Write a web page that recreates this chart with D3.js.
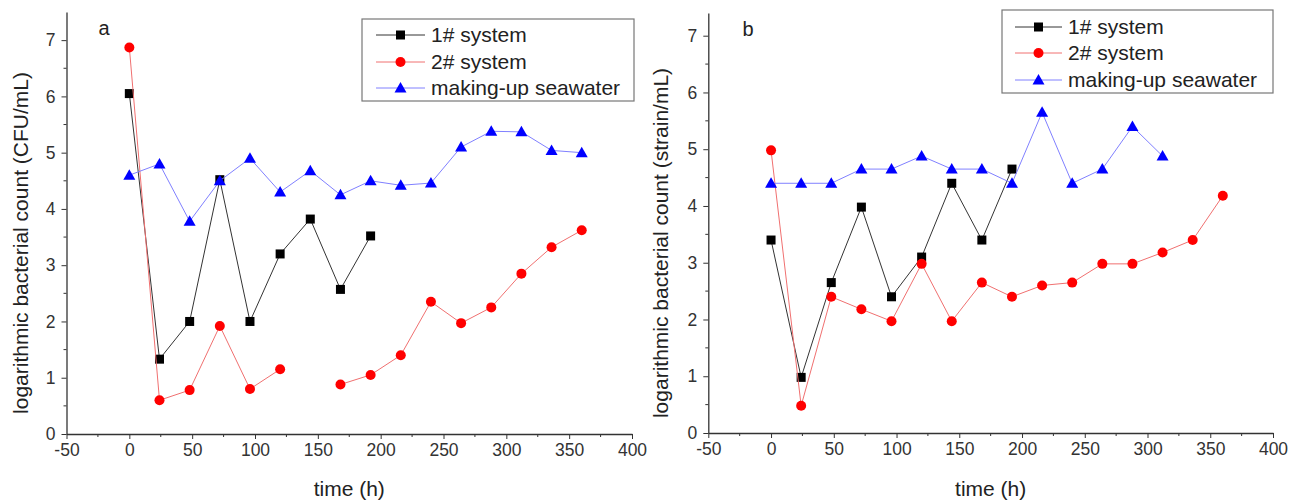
<!DOCTYPE html>
<meta charset="utf-8">
<style>
html, body { margin: 0; padding: 0; background: #fff; }
svg { display: block; font-family: "Liberation Sans", Arial, sans-serif; }
.axis path, .axis line { stroke: #333; }
</style>
<svg width="1303" height="501"></svg>
<script src="https://d3js.org/d3.v7.min.js"></script>
<script>
// sampling times (h)
const hours = [0, 24, 48, 72, 96, 120, 144, 168, 192, 216, 240, 264, 288, 312, 336, 360];

// panel a : CFU/mL
const a_sys1 = [6.05, 1.33, 2.0, 4.52, 2.0, 3.2, 3.82, 2.57, 3.52];
const a_sys2 = [6.87, 0.6, 0.78, 1.92, 0.8, 1.15, null, 0.88, 1.05, 1.4, 2.35, 1.97, 2.25, 2.85, 3.32, 3.62];
const a_sea = [4.6, 4.8, 3.78, 4.5, 4.9, 4.3, 4.68, 4.25, 4.5, 4.42, 4.46, 5.1, 5.38, 5.37, 5.04, 5.0];

// panel b : strain/mL
const b_sys1 = [3.4, 0.98, 2.65, 3.98, 2.4, 3.1, 4.4, 3.4, 4.65];
const b_sys2 = [4.98, 0.48, 2.4, 2.18, 1.97, 2.98, 1.97, 2.65, 2.4, 2.6, 2.65, 2.98, 2.98, 3.18, 3.4, 4.18];
const b_sea = [4.4, 4.4, 4.4, 4.65, 4.65, 4.88, 4.65, 4.65, 4.4, 5.65, 4.4, 4.65, 5.4, 4.88];

const xTicks = [-50, 0, 50, 100, 150, 200, 250, 300, 350, 400];
const yTicks = [0, 1, 2, 3, 4, 5, 6, 7];
const seriesNames = ['1# system', '2# system', 'making-up seawater'];

const styles = [
  {line: '#333', fill: '#000', shape: 'square'},
  {line: '#f07070', fill: '#f00', shape: 'circle'},
  {line: '#8080ff', fill: '#00f', shape: 'triangle'}
];

const svg = d3.select('svg');

const panels = [
  {label: 'a', ytitle: 'logarithmic bacterial count (CFU/mL)', data: [a_sys1, a_sys2, a_sea],
   xr: [66.5, 632], yr: [434, 12], ymax: 7.5, ytx: 28, lab: [104, 35],
   legend: {x: 362, y: 19, w: 272, h: 82, rows: [35, 62, 88], l0: 376, l1: 425, tx: 431}},
  {label: 'b', ytitle: 'logarithmic bacterial count (strain/mL)', data: [b_sys1, b_sys2, b_sea],
   xr: [708.3, 1273], yr: [433, 13], ymax: 7.4, ytx: 668, lab: [748, 36],
   legend: {x: 1002, y: 10, w: 271, h: 83, rows: [27, 53, 80], l0: 1015, l1: 1062, tx: 1068}}
];

function marker(g, shape, color) {
  if (shape === 'square') {
    g.append('rect').attr('x', -4.5).attr('y', -4.5).attr('width', 9).attr('height', 9).attr('fill', color);
  } else if (shape === 'circle') {
    g.append('circle').attr('r', 5).attr('fill', color);
  } else {
    g.append('path').attr('d', 'M0,-6L6,4.5L-6,4.5Z').attr('fill', color);
  }
}

panels.forEach(p => {
  const x = d3.scaleLinear().domain([-50, 400]).range(p.xr);
  const y = d3.scaleLinear().domain([0, p.ymax]).range(p.yr);
  const g = svg.append('g');

  // minor ticks
  const xMinor = d3.range(-50, 401, 25).filter(v => v % 50 !== 0);
  const yMinor = d3.range(0.5, p.ymax, 1);
  g.append('g').selectAll('line').data(xMinor).join('line')
    .attr('x1', d => x(d)).attr('x2', d => x(d))
    .attr('y1', p.yr[0]).attr('y2', p.yr[0] + 3).attr('stroke', '#333');
  g.append('g').selectAll('line').data(yMinor).join('line')
    .attr('y1', d => y(d)).attr('y2', d => y(d))
    .attr('x1', p.xr[0]).attr('x2', p.xr[0] - 3).attr('stroke', '#333');

  const styleAxis = s => {
    s.attr('font-family', null).attr('font-size', null);
    s.select('.domain').attr('stroke-width', 1.3);
    s.selectAll('text').attr('font-size', 17.5).attr('fill', '#333');
  };
  g.append('g').attr('class', 'axis')
    .attr('transform', `translate(0,${p.yr[0]})`)
    .call(d3.axisBottom(x).tickValues(xTicks).tickFormat(d => String(d))
      .tickSize(5).tickPadding(5).tickSizeOuter(0))
    .call(styleAxis);
  g.append('g').attr('class', 'axis')
    .attr('transform', `translate(${p.xr[0]},0)`)
    .call(d3.axisLeft(y).tickValues(yTicks).tickFormat(d => String(d))
      .tickSize(5).tickPadding(6).tickSizeOuter(0))
    .call(styleAxis);

  g.append('text')
    .attr('x', (p.xr[0] + p.xr[1]) / 2).attr('y', 496)
    .attr('text-anchor', 'middle').attr('font-size', 21).attr('fill', '#222')
    .text('time (h)');
  g.append('text')
    .attr('transform', `translate(${p.ytx},${(p.yr[0] + p.yr[1]) / 2 + 20}) rotate(-90)`)
    .attr('text-anchor', 'middle').attr('font-size', 21).attr('fill', '#222')
    .text(p.ytitle);
  g.append('text')
    .attr('x', p.lab[0]).attr('y', p.lab[1])
    .attr('text-anchor', 'middle').attr('font-size', 20).attr('fill', '#222')
    .text(p.label);

  p.data.forEach((vals, i) => {
    const pts = vals.map((v, k) => ({t: hours[k], v: v}));
    const line = d3.line().defined(d => d.v !== null).x(d => x(d.t)).y(d => y(d.v));
    g.append('path').datum(pts)
      .attr('d', line).attr('fill', 'none')
      .attr('stroke', styles[i].line).attr('stroke-width', 1);
    g.append('g').selectAll('g').data(pts.filter(d => d.v !== null)).join('g')
      .attr('transform', d => `translate(${x(d.t)},${y(d.v)})`)
      .each(function () { marker(d3.select(this), styles[i].shape, styles[i].fill); });
  });

  // legend
  const L = p.legend;
  const lg = g.append('g');
  lg.append('rect').attr('x', L.x).attr('y', L.y).attr('width', L.w).attr('height', L.h)
    .attr('fill', '#fff').attr('stroke', '#777').attr('stroke-width', 1.2);
  seriesNames.forEach((name, i) => {
    const ry = L.rows[i];
    lg.append('line').attr('x1', L.l0).attr('x2', L.l1).attr('y1', ry).attr('y2', ry)
      .attr('stroke', styles[i].line).attr('stroke-width', 1);
    marker(lg.append('g').attr('transform', `translate(${(L.l0 + L.l1) / 2},${ry})`), styles[i].shape, styles[i].fill);
    lg.append('text').attr('x', L.tx).attr('y', ry + 7)
      .attr('font-size', 21).attr('fill', '#222').text(name);
  });
});
</script>
